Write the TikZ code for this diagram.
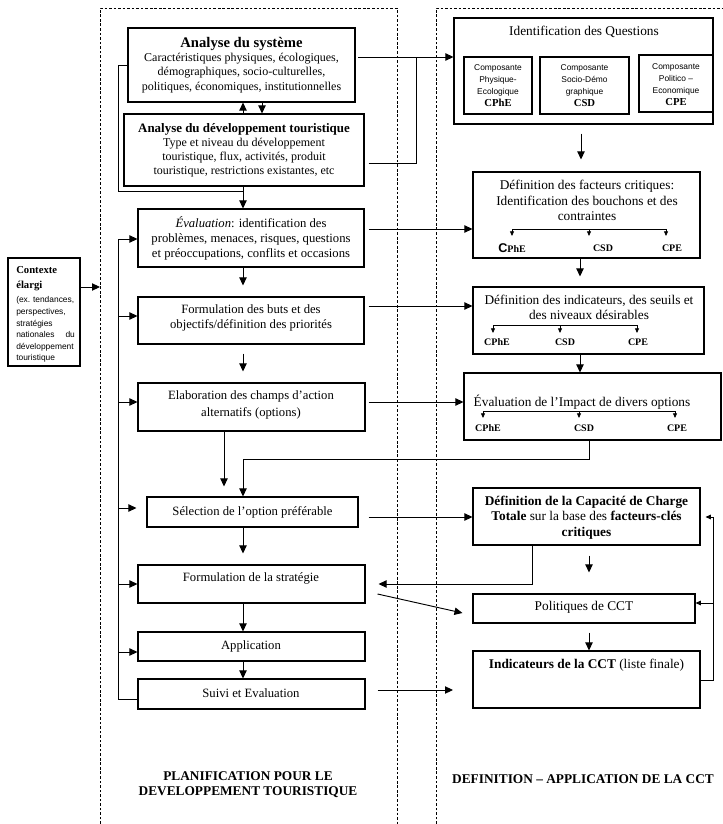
\documentclass[tikz,border=0pt]{standalone}
\usepackage{fontspec}
\setmainfont{Liberation Serif}
\setsansfont{Liberation Sans}
\usetikzlibrary{arrows.meta,fit,calc}
\begin{document}
\begin{tikzpicture}[x=0.75pt,y=-0.75pt,
  frame/.style={draw, line width=0.8pt, inner sep=0pt},
  tx/.style={align=center, inner sep=0pt, font=\fontsize{9.5}{11.3}\selectfont},
  rtx/.style={tx, font=\fontsize{10}{11.6}\selectfont},
  stx/.style={tx, font=\fontsize{6.3}{9}\selectfont\sffamily},
  panel/.style={dash pattern=on 2pt off 1.4pt, line width=0.6pt},
  conn/.style={line width=0.7pt},
  arr/.style={conn, -{Triangle[length=6pt,width=5.5pt]}},
  sarr/.style={conn, -{Triangle[length=4pt,width=3.5pt]}},
  tarr/.style={line width=0.6pt, -{Triangle[length=3.5pt,width=3pt]}},
  lab/.style={font=\fontsize{7.5}{8}\selectfont\bfseries, inner sep=0pt},
  ttl/.style={align=center, inner sep=0pt, font=\fontsize{10}{11.3}\selectfont\bfseries},
]
\useasboundingbox (0,0) rectangle (722,824);

% panels
\draw[panel] (100,824) -- (100,8) -- (397,8) -- (397,824);
\draw[panel] (436,824) -- (436,8) -- (722,8);

% left column boxes
\node[frame, fit={(128,28)(355,102)}] (sys) {};
\node[tx, font=\fontsize{9}{10.6}\selectfont] (syst) at (241.5,65)
  {{\fontsize{11}{13}\selectfont\bfseries Analyse du système}\\
   Caractéristiques physiques, écologiques,\\
   démographiques, socio-culturelles,\\
   politiques, économiques, institutionnelles};
\node[frame, fit={(124,114)(364,186)}] (dev) {};
\node[tx, font=\fontsize{9}{10.4}\selectfont] (devt) at (244,150)
  {{\fontsize{9.7}{11}\selectfont\bfseries Analyse du développement touristique}\\
   Type et niveau du développement\\
   touristique, flux, activités, produit\\
   touristique, restrictions existantes, etc};
\node[frame, fit={(138,209)(364,267)}] (eval) {};
\node[tx] (evalt) at (251,238)
  {\textit{Évaluation}: identification des\\
   problèmes, menaces, risques, questions\\
   et préoccupations, conflits et occasions};
\node[frame, fit={(138,297)(364,344)}] (buts) {};
\node[tx] (butst) at (251,317.5)
  {Formulation des buts et des\\ objectifs/définition des priorités};
\node[frame, fit={(138,383)(365,431)}] (elab) {};
\node[tx, font=\fontsize{9.5}{12.75}\selectfont] (elabt) at (251,404.5)
  {Elaboration des champs d’action\\ alternatifs (options)};
\node[frame, fit={(147,497)(358,527)}] (sel) {};
\node[tx] (selt) at (252.5,512) {Sélection de l’option préférable};
\node[frame, fit={(138,565)(365,603)}] (strat) {};
\node[tx] (stratt) at (251,578) {Formulation de la stratégie};
\node[frame, fit={(138,632)(365,661)}] (app) {};
\node[tx] (appt) at (251,646) {Application};
\node[frame, fit={(138,679)(365,709)}] (suivi) {};
\node[tx] (suivit) at (251,693) {Suivi et Evaluation};

% context
\node[draw, line width=2.2pt, inner sep=0pt, fit={(8,258)(80,366)}] (ctx) {};
\node[align=left, text width=44pt, inner sep=0pt, anchor=north west,
      font=\fontsize{6.3}{8.7}\selectfont\sffamily,
      execute at begin node={\hyphenpenalty=10000\exhyphenpenalty=10000}] (ctxt) at (16,266.5)
  {{\rmfamily\bfseries\fontsize{8}{11}\selectfont Contexte}\\[2.6pt]
   {\rmfamily\bfseries\fontsize{8}{11}\selectfont élargi}\\[1.8pt]
   \mbox{(ex.\ tendances,}\\
   perspectives,\\
   stratégies\\
   nationales\hfill du\\
   développement\\
   touristique};

% right column
\node[frame, fit={(454,18)(713,124)}] (idq) {};
\node[rtx] (idqt) at (584,32) {Identification des Questions};
\node[frame, fit={(464,57)(532,114)}] (c1) {};
\node[stx] (c1t) at (498,85.5)
  {Composante\\ Physique-\\ Ecologique\\ {\rmfamily\bfseries\fontsize{8}{9}\selectfont CPhE}};
\node[frame, fit={(540,57)(629,114)}] (c2) {};
\node[stx] (c2t) at (584.5,86)
  {Composante\\ Socio-Démo\\ graphique\\ {\rmfamily\bfseries\fontsize{8}{9}\selectfont CSD}};
\node[frame, fit={(639,55)(713,112)}] (c3) {};
\node[stx] (c3t) at (676,84.5)
  {Composante\\ Politico –\\ Economique\\ {\rmfamily\bfseries\fontsize{8}{9}\selectfont CPE}};

\node[frame, fit={(473,172)(700,258)}] (dfc) {};
\node[rtx, font=\fontsize{10}{11.8}\selectfont] (dfct) at (587,200.5)
  {Définition des facteurs critiques:\\ Identification des bouchons et des\\ contraintes};
\draw[line width=0.6pt] (512,229) -- (666,229);
\foreach \xx in {512,589,666} \draw[tarr] (\xx,229) -- (\xx,236);
\node[lab] (dfc1) at (512,248) {{\sffamily\fontsize{9.5}{10}\selectfont C}PhE};
\node[lab] (dfc2) at (603,248) {CSD};
\node[lab] (dfc3) at (672,248) {CPE};

\node[frame, fit={(473,287)(704,354)}] (dind) {};
\node[rtx, font=\fontsize{10}{11.3}\selectfont] (dindt) at (589,307.5)
  {Définition des indicateurs, des seuils et\\ des niveaux désirables};
\draw[line width=0.6pt] (493,325) -- (637,325);
\foreach \xx in {493,560,637} \draw[tarr] (\xx,325) -- (\xx,333);
\node[lab] (dind1) at (497,342) {CPhE};
\node[lab] (dind2) at (565,342) {CSD};
\node[lab] (dind3) at (638,342) {CPE};

\node[frame, fit={(464,373)(721,440)}] (eimp) {};
\node[rtx] (eimpt) at (582,402) {Évaluation de l’Impact de divers options};
\draw[line width=0.6pt] (483,411) -- (675,411);
\foreach \xx in {483,579,675} \draw[tarr] (\xx,411) -- (\xx,418);
\node[lab] (eimp1) at (488,428) {CPhE};
\node[lab] (eimp2) at (584,428) {CSD};
\node[lab] (eimp3) at (677,428) {CPE};

\node[frame, fit={(473,488)(700,545)}] (dcct) {};
\node[rtx] (dcctt) at (586.5,517.5)
  {\textbf{Définition de la Capacité de Charge}\\
   \textbf{Totale} sur la base des \textbf{facteurs-clés}\\
   \textbf{critiques}};
\node[frame, fit={(473,594)(695,623)}] (pol) {};
\node[rtx] (polt) at (584,607) {Politiques de CCT};
\node[frame, fit={(473,651)(700,708)}] (ind) {};
\node[rtx] (indt) at (586.5,665) {\textbf{Indicateurs de la CCT} (liste finale)};

% titles
\node[ttl] (t1) at (248,785) {PLANIFICATION POUR LE\\ DEVELOPPEMENT TOURISTIQUE};
\node[ttl] (t2) at (583,779) {DEFINITION – APPLICATION DE LA CCT};

% helper coordinates
\coordinate (cL) at (243,0);
\coordinate (cM) at (262,0);
\coordinate (cE) at (224,0);
\coordinate (cR) at (581,0);
\coordinate (cR2) at (580,0);
\coordinate (cP) at (589,0);

% left column connectors
\draw[arr] (dev.north -| cL) -- (sys.south -| cL);
\draw[arr] (sys.south -| cM) -- (dev.north -| cM);
\coordinate (lp) at (118,191);
\draw[conn] (sys.west) -| (lp) -- (lp -| cL);
\draw[arr] (dev.south -| cL) -- (eval.north -| cL);
\draw[arr, shorten >=8.25pt] (eval.south -| cL) -- (buts.north -| cL);
\draw[arr, shorten <=6.75pt, shorten >=8.25pt] (buts.south -| cL) -- (elab.north -| cL);
\draw[arr, shorten >=7.5pt] (elab.south -| cE) -- (sel.north -| cE);
\draw[arr, shorten >=8.25pt] (sel.south -| cL) -- (strat.north -| cL);
\draw[arr] (strat.south -| cL) -- (app.north -| cL);
\draw[arr] (app.south -| cL) -- (suivi.north -| cL);

% feedback line on the left
\coordinate (f1) at (118,239);
\coordinate (f2) at (118,316);
\coordinate (f3) at (118,402);
\coordinate (f4) at (118,508);
\coordinate (f5) at (118,584);
\coordinate (f6) at (118,652);
\coordinate (f7) at (118,699);
\draw[conn] (suivi.west |- f7) -- (f7) -- (f1);
\draw[arr] (f1) -- (eval.west |- f1);
\draw[arr] (f2) -- (buts.west |- f2);
\draw[arr] (f3) -- (elab.west |- f3);
\draw[arr, shorten >=7.5pt] (f4) -- (sel.west |- f4);
\draw[arr] (f5) -- (strat.west |- f5);
\draw[arr] (f6) -- (app.west |- f6);

% context arrow
\coordinate (pl) at (100,287);
\draw[arr] (ctx.east |- pl) -- (pl);

% left to right connectors
\coordinate (y57) at (0,57);
\coordinate (y163) at (0,163);
\coordinate (j0) at (416,57);
\draw[arr, shorten <=2pt] (sys.east |- y57) -- (idq.west |- y57);
\draw[conn, shorten <=3pt] (dev.east |- y163) -| (j0);
\coordinate (ya) at (0,229);
\coordinate (yb) at (0,306);
\coordinate (yc) at (0,402);
\coordinate (yd) at (0,517);
\draw[arr, shorten <=3pt] (eval.east |- ya) -- (dfc.west |- ya);
\draw[arr, shorten <=3pt] (buts.east |- yb) -- (dind.west |- yb);
\draw[arr, shorten <=2.25pt] (elab.east |- yc) -- (eimp.west |- yc);
\draw[arr, shorten <=7.5pt] (sel.east |- yd) -- (dcct.west |- yd);
\coordinate (sv) at (453,690);
\draw[arr, shorten <=9pt] (suivi.east |- sv) -- (sv);

% right column connectors
\draw[arr, shorten <=6.75pt, shorten >=9pt] (idq.south -| cR) -- (dfc.north -| cR);
\draw[arr, shorten >=7.5pt] (dfc.south -| cR2) -- (dind.north -| cR2);
\draw[arr] (dind.south -| cR2) -- (eimp.north -| cR2);
\coordinate (j1) at (589,459);
\draw[arr] (eimp.south -| j1) -- (j1) -| (sel.north -| cL);
\coordinate (j2) at (532,584);
\draw[arr, shorten >=9.75pt] (dcct.south -| j2) -- (j2) -- (strat.east |- j2);
\draw[arr] ([shift={(12,10)}]strat.east) -- ([shift={(-10,4.5)}]pol.west);
\draw[arr, shorten <=7.5pt, shorten >=15.75pt] (dcct.south -| cP) -- (pol.north -| cP);
\draw[arr, shorten <=6.75pt] (pol.south -| cP) -- (ind.north -| cP);
\coordinate (j3) at (713,680);
\coordinate (j4) at (713,517);
\coordinate (j5) at (713,603);
\draw[conn] (ind.east |- j3) -- (j3) -- (j4);
\draw[sarr, shorten >=3.75pt] (j4) -- (dcct.east |- j4);
\draw[sarr] (j5) -- (pol.east |- j5);
\end{tikzpicture}
\end{document}
